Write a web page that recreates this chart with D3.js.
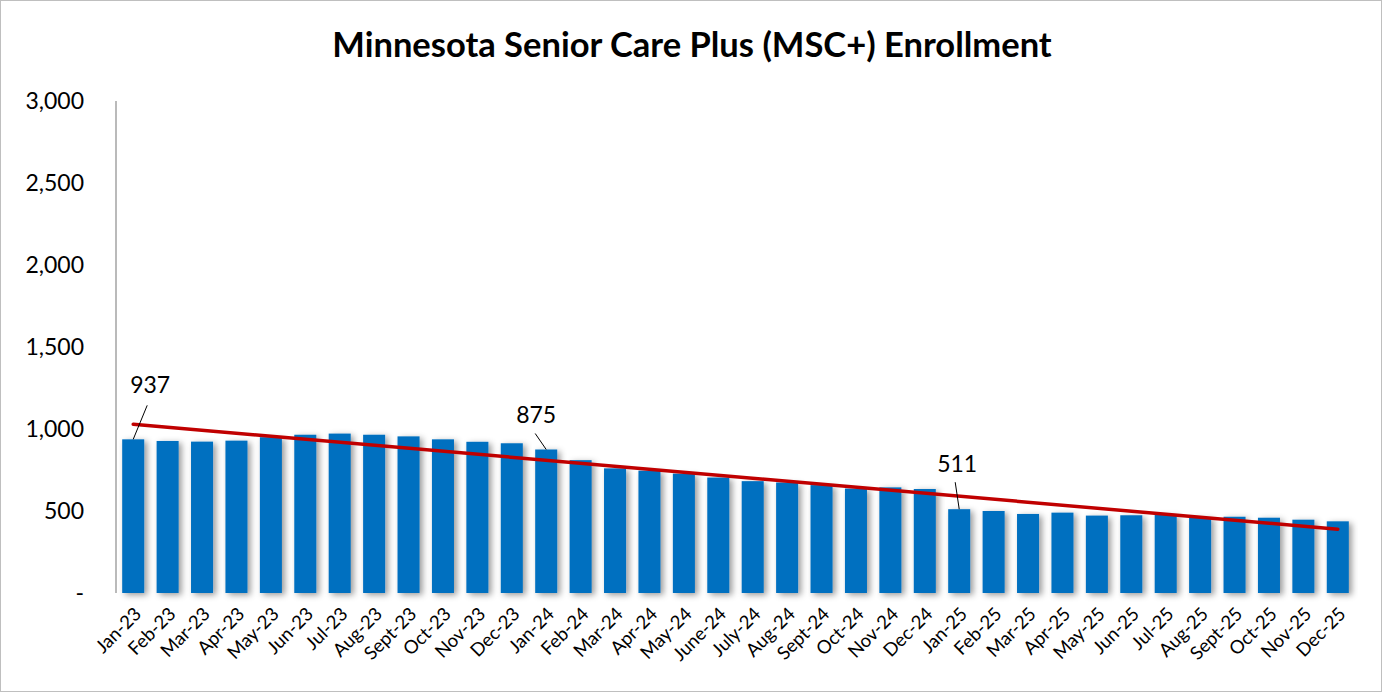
<!DOCTYPE html>
<html>
<head>
<meta charset="utf-8">
<script src="https://cdn.jsdelivr.net/npm/d3@7"></script>
<style>
  body { margin: 0; background: #fff; }
  svg { display: block; font-family: Lato, "Open Sans", sans-serif; }
</style>
</head>
<body>
<svg id="chart" width="1382" height="692"></svg>
<script>
// months shown on the x axis
var months = [
  'Jan-23', 'Feb-23', 'Mar-23', 'Apr-23', 'May-23', 'Jun-23', 'Jul-23', 'Aug-23', 'Sept-23', 'Oct-23', 'Nov-23', 'Dec-23',
  'Jan-24', 'Feb-24', 'Mar-24', 'Apr-24', 'May-24', 'June-24', 'July-24', 'Aug-24', 'Sept-24', 'Oct-24', 'Nov-24', 'Dec-24',
  'Jan-25', 'Feb-25', 'Mar-25', 'Apr-25', 'May-25', 'Jun-25', 'Jul-25', 'Aug-25', 'Sept-25', 'Oct-25', 'Nov-25', 'Dec-25'
];

// monthly enrollment
var enrollment = [
  937, 927, 923, 929, 950, 965, 972, 965, 955, 937, 922, 913,
  875, 810, 760, 746, 728, 704, 682, 674, 658, 637, 644, 634,
  511, 500, 482, 490, 472, 474, 478, 463, 465, 459, 447, 437
];

// which bars get a value callout
var callouts = ['Jan-23', 'Jan-24', 'Jan-25'];

var yTicks = [0, 500, 1000, 1500, 2000, 2500, 3000];

var svg = d3.select('#chart');
var width = 1382, height = 692;
var margin = { top: 101, right: 27, bottom: 99, left: 116 };

var defs = svg.append('defs');
var shadow = defs.append('filter').attr('id', 'barShadow')
  .attr('x', '-40%').attr('y', '-10%').attr('width', '180%').attr('height', '130%');
shadow.append('feDropShadow')
  .attr('dx', 3).attr('dy', 2).attr('stdDeviation', 3)
  .attr('flood-color', '#000').attr('flood-opacity', 0.4);

var lineShadow = defs.append('filter').attr('id', 'lineShadow')
  .attr('x', '-5%').attr('y', '-200%').attr('width', '110%').attr('height', '500%');
lineShadow.append('feDropShadow')
  .attr('dx', 0).attr('dy', 1.5).attr('stdDeviation', 0.8)
  .attr('flood-color', '#000').attr('flood-opacity', 0.3);

// outer chart border
svg.append('rect')
  .attr('x', 0.5).attr('y', 0.5)
  .attr('width', width - 1).attr('height', height - 1)
  .attr('fill', '#fff').attr('stroke', '#bfbfbf');

var x = d3.scaleBand()
  .domain(months)
  .range([margin.left, width - margin.right])
  .paddingInner(0.36)
  .paddingOuter(0.18);

var y = d3.scaleLinear()
  .domain([0, 3000])
  .range([height - margin.bottom, margin.top]);

// gridlines
svg.append('g')
  .selectAll('line')
  .data(yTicks)
  .enter().append('line')
  .attr('x1', margin.left)
  .attr('x2', width - margin.right)
  .attr('y1', d => y(d))
  .attr('y2', d => y(d))
  .attr('stroke', '#8c8c8c')
  .attr('stroke-width', 1.2)
  .attr('filter', 'url(#lineShadow)');

// left axis line
svg.append('line')
  .attr('x1', margin.left).attr('x2', margin.left)
  .attr('y1', y(3000)).attr('y2', y(0))
  .attr('stroke', '#8c8c8c')
  .attr('stroke-width', 1.2);

// y tick labels
svg.append('g')
  .selectAll('text')
  .data(yTicks)
  .enter().append('text')
  .attr('x', 84)
  .attr('y', d => y(d))
  .attr('dy', '0.35em')
  .attr('text-anchor', 'end')
  .attr('font-size', 23)
  .attr('fill', '#000')
  .text(d => d === 0 ? '-' : d3.format(',')(d));

// bars
svg.append('g')
  .selectAll('rect')
  .data(months)
  .enter().append('rect')
  .attr('x', d => x(d))
  .attr('width', x.bandwidth())
  .attr('y', (d, i) => y(enrollment[i]))
  .attr('height', (d, i) => y(0) - y(enrollment[i]))
  .attr('fill', '#0070c0')
  .attr('filter', 'url(#barShadow)');

// x labels, rotated
svg.append('g')
  .selectAll('text')
  .data(months)
  .enter().append('text')
  .attr('transform', d => `translate(${x(d) + x.bandwidth() / 2},${y(0) + 13}) rotate(-45)`)
  .attr('text-anchor', 'end')
  .attr('dy', '0.7em')
  .attr('font-size', 18.5)
  .attr('fill', '#000')
  .text(d => d);

// linear trendline (least squares on the bar values)
var idx = d3.range(enrollment.length);
var mx = d3.mean(idx), my = d3.mean(enrollment);
var slope = d3.sum(idx, i => (i - mx) * (enrollment[i] - my)) / d3.sum(idx, i => (i - mx) * (i - mx));
var intercept = my - slope * mx;
var cx = i => x(months[i]) + x.bandwidth() / 2;

svg.append('line')
  .attr('x1', cx(0))
  .attr('y1', y(intercept))
  .attr('x2', cx(months.length - 1))
  .attr('y2', y(intercept + slope * (months.length - 1)))
  .attr('stroke', '#c00000')
  .attr('stroke-width', 3.5)
  .attr('stroke-linecap', 'round');

// value callouts with leader lines: [text dx, text dy, line dx, line dy] from bar top centre
var calloutOffsets = {
  'Jan-23': [17, -46, 14, -34],
  'Jan-24': [-10, -27, -11, -16],
  'Jan-25': [-2, -37, -4, -27]
};
var cg = svg.append('g');
callouts.forEach(function(m) {
  var i = months.indexOf(m);
  var bx = cx(i), by = y(enrollment[i]);
  var off = calloutOffsets[m];
  cg.append('line')
    .attr('x1', bx).attr('y1', by)
    .attr('x2', bx + off[2]).attr('y2', by + off[3])
    .attr('stroke', '#000').attr('stroke-width', 1);
  cg.append('text')
    .attr('x', bx + off[0])
    .attr('y', by + off[1])
    .attr('text-anchor', 'middle')
    .attr('font-size', 23)
    .attr('fill', '#000')
    .text(enrollment[i]);
});

// title
svg.append('text')
  .attr('x', 692)
  .attr('y', 57)
  .attr('text-anchor', 'middle')
  .attr('font-size', 34.5)
  .attr('font-weight', 'bold')
  .attr('fill', '#000')
  .text('Minnesota Senior Care Plus (MSC+) Enrollment');
</script>
</body>
</html>
